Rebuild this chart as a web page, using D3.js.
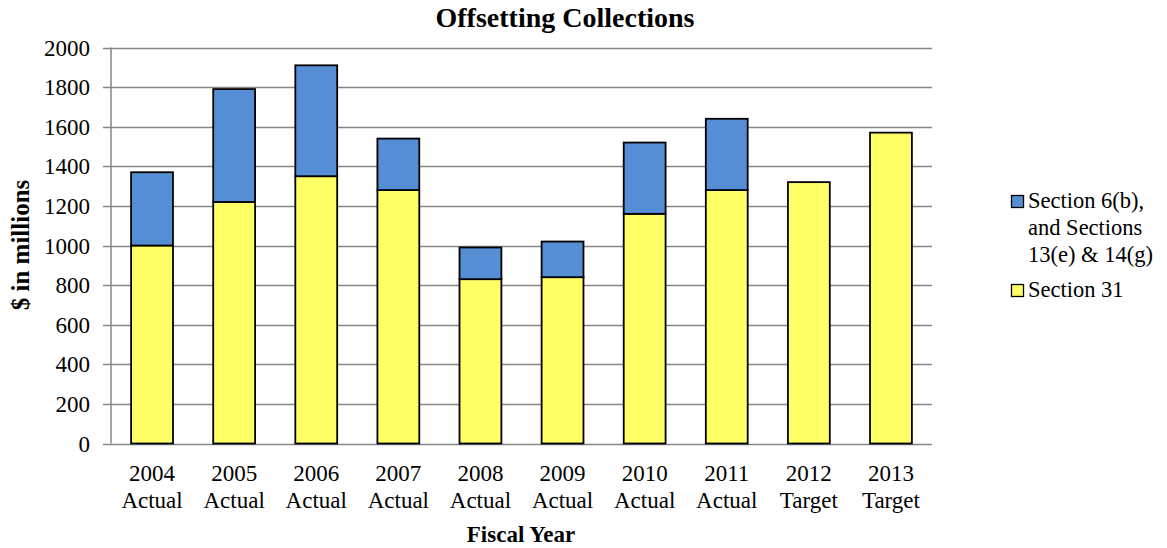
<!DOCTYPE html>
<html>
<head>
<meta charset="utf-8">
<script src="https://cdn.jsdelivr.net/npm/d3@7"></script>
<style>
  body { margin: 0; background: #fff; }
  text { font-family: "Liberation Serif", "Times New Roman", serif; fill: #000; }
</style>
</head>
<body>
<script>
var years = ["2004", "2005", "2006", "2007", "2008", "2009", "2010", "2011", "2012", "2013"];
var kinds = ["Actual", "Actual", "Actual", "Actual", "Actual", "Actual", "Actual", "Actual", "Target", "Target"];
var section31 = [1000, 1220, 1350, 1280, 830, 840, 1160, 1280, 1320, 1570];
var section6b = [370, 570, 560, 260, 160, 180, 360, 360, 0, 0];
var yTicks = [0, 200, 400, 600, 800, 1000, 1200, 1400, 1600, 1800, 2000];
var seriesNames = ["Section 6(b),|and Sections|13(e) & 14(g)", "Section 31"];

var width = 1167,
	height = 548,
	margin = {left: 111, right: 235, top: 47.5, bottom: 104.5};

var svg = d3.select("body").append("svg")
	.attr("width", width)
	.attr("height", height);

var x = d3.scaleBand()
	.domain(years)
	.range([margin.left, width - margin.right])
	.paddingInner(0.49)
	.paddingOuter(0.245);

var y = d3.scaleLinear()
	.domain([0, 2000])
	.range([height - margin.bottom, margin.top]);

// gridlines
svg.append("g")
	.selectAll("line")
	.data(yTicks)
	.join("line")
	.attr("x1", margin.left - 8)
	.attr("x2", width - margin.right)
	.attr("y1", function(d) { return Math.round(y(d)) + 0.5; })
	.attr("y2", function(d) { return Math.round(y(d)) + 0.5; })
	.attr("stroke", "#868686")
	.attr("stroke-width", 1.5);

svg.append("line")
	.attr("x1", margin.left).attr("x2", margin.left)
	.attr("y1", y(2000)).attr("y2", y(0))
	.attr("stroke", "#868686").attr("stroke-width", 1.5);

// y tick labels
svg.append("g")
	.selectAll("text")
	.data(yTicks)
	.join("text")
	.attr("x", margin.left - 21)
	.attr("y", function(d) { return y(d); })
	.attr("dy", "0.35em")
	.attr("text-anchor", "end")
	.style("font-size", "23px")
	.text(function(d) { return d; });

// stacked bars
var rows = years.map(function(yr, i) { return {year: yr, s31: section31[i], s6: section6b[i]}; });
var stack = d3.stack().keys(["s31", "s6"])(rows);
var colors = {s31: "#FFFF66", s6: "#558ED5"};

svg.append("g")
	.selectAll("g")
	.data(stack)
	.join("g")
	.attr("fill", function(d) { return colors[d.key]; })
	.selectAll("rect")
	.data(function(d) { return d.filter(function(p) { return p[1] > p[0]; }); })
	.join("rect")
	.attr("x", function(d) { return x(d.data.year); })
	.attr("y", function(d) { return y(d[1]); })
	.attr("width", x.bandwidth())
	.attr("height", function(d) { return y(d[0]) - y(d[1]); })
	.attr("stroke", "#000")
	.attr("stroke-width", 1.8);

// x labels
var xl = svg.append("g")
	.selectAll("text")
	.data(years)
	.join("text")
	.attr("x", function(d) { return x(d) + x.bandwidth() / 2; })
	.attr("y", 481)
	.attr("text-anchor", "middle")
	.style("font-size", "23px");
xl.append("tspan").text(function(d) { return d; });
xl.append("tspan")
	.attr("x", function(d) { return x(d) + x.bandwidth() / 2; })
	.attr("dy", 27)
	.text(function(d, i) { return kinds[i]; });

// titles
svg.append("text")
	.attr("x", 565).attr("y", 27)
	.attr("text-anchor", "middle")
	.style("font-size", "28px").style("font-weight", "bold")
	.text("Offsetting Collections");

svg.append("text")
	.attr("x", 521).attr("y", 542)
	.attr("text-anchor", "middle")
	.style("font-size", "23px").style("font-weight", "bold")
	.text("Fiscal Year");

svg.append("text")
	.attr("transform", "translate(29,245) rotate(-90)")
	.attr("text-anchor", "middle")
	.style("font-size", "25px").style("font-weight", "bold")
	.text("$ in millions");

// legend
var legend = svg.append("g");
var legendRows = [
	{name: seriesNames[0], color: colors.s6, y: 208},
	{name: seriesNames[1], color: colors.s31, y: 297}
];
legend.selectAll("rect")
	.data(legendRows)
	.join("rect")
	.attr("x", 1011.5).attr("y", function(d) { return d.y - 12.5; })
	.attr("width", 12).attr("height", 12)
	.attr("fill", function(d) { return d.color; })
	.attr("stroke", "#000").attr("stroke-width", 1.3);
var lt = legend.selectAll("text")
	.data(legendRows)
	.join("text")
	.attr("x", 1028)
	.attr("y", function(d) { return d.y; })
	.style("font-size", "22.5px");
lt.selectAll("tspan")
	.data(function(d) { return d.name.split("|"); })
	.join("tspan")
	.attr("x", 1028)
	.attr("dy", function(d, i) { return i ? 27 : 0; })
	.text(function(d) { return d; });
</script>
</body>
</html>
